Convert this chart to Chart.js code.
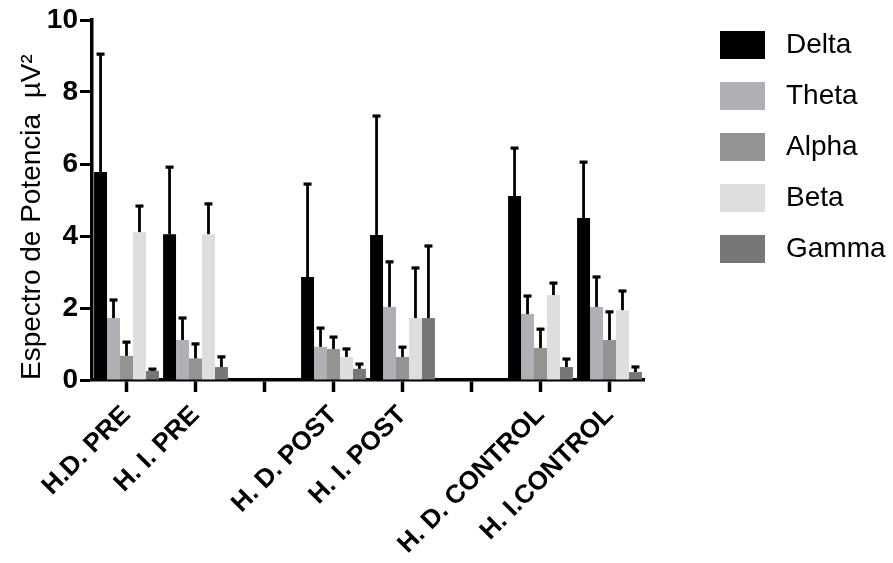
<!DOCTYPE html>
<html>
<head>
<meta charset="utf-8">
<script src="https://cdn.jsdelivr.net/npm/chart.js@4.4.0/dist/chart.umd.min.js"></script>
<style>
  html, body { margin: 0; padding: 0; background: #ffffff; }
  #wrap { width: 893px; height: 563px; }
</style>
</head>
<body>
<div id="wrap"><canvas id="c" width="893" height="563"></canvas></div>
<script>
// Groups along the x axis; empty labels leave a gap between PRE, POST and CONTROL
const categories = ['H.D. PRE', 'H. I. PRE', '', 'H. D. POST', 'H. I. POST', '', 'H. D. CONTROL', 'H. I.CONTROL'];

// Mean power per band (µV²)
const delta = [5.78, 4.05, null, 2.86, 4.03, null, 5.11, 4.50];
const theta = [1.72, 1.11, null, 0.92, 2.03, null, 1.83, 2.03];
const alpha = [0.67, 0.60, null, 0.86, 0.64, null, 0.89, 1.11];
const beta  = [4.11, 4.05, null, 0.64, 1.72, null, 2.36, 1.94];
const gamma = [0.25, 0.36, null, 0.31, 1.72, null, 0.36, 0.22];

// Standard deviation per band (drawn upward only)
const deltaSD = [3.30, 1.89, null, 2.61, 3.33, null, 1.36, 1.58];
const thetaSD = [0.53, 0.64, null, 0.55, 1.28, null, 0.53, 0.86];
const alphaSD = [0.41, 0.43, null, 0.36, 0.30, null, 0.55, 0.81];
const betaSD  = [0.75, 0.87, null, 0.25, 1.42, null, 0.36, 0.56];
const gammaSD = [0.08, 0.31, null, 0.16, 2.03, null, 0.25, 0.17];

// Y axis range and step
const yMin = 0, yMax = 10, yStep = 2;

const FONT = '"Liberation Sans", Arial, Helvetica, sans-serif';

// Upper error bars: a stem from the bar top to mean + SD with a short cap
const errorBarPlugin = {
  id: 'errorBars',
  afterDatasetsDraw(chart) {
    const ctx = chart.ctx;
    const yScale = chart.scales.y;
    ctx.save();
    ctx.strokeStyle = '#000000';
    ctx.lineCap = 'butt';
    chart.data.datasets.forEach((ds, i) => {
      const meta = chart.getDatasetMeta(i);
      meta.data.forEach((bar, j) => {
        const v = ds.data[j];
        const sd = ds.sd[j];
        if (v == null || sd == null) return;
        const x = bar.x;
        const y0 = yScale.getPixelForValue(v);
        const y1 = yScale.getPixelForValue(v + sd);
        ctx.lineWidth = 2.8;
        ctx.beginPath();
        ctx.moveTo(x, y0);
        ctx.lineTo(x, y1);
        ctx.stroke();
        ctx.lineWidth = 3.2;
        ctx.beginPath();
        ctx.moveTo(x - 4, y1 + 1);
        ctx.lineTo(x + 4, y1 + 1);
        ctx.stroke();
      });
    });
    ctx.restore();
  }
};

// Legend drawn at the right, one swatch per band
const sideLegendPlugin = {
  id: 'sideLegend',
  afterDraw(chart) {
    const ctx = chart.ctx;
    ctx.save();
    ctx.font = '28px ' + FONT;
    ctx.textBaseline = 'middle';
    ctx.textAlign = 'left';
    chart.data.datasets.forEach((ds, i) => {
      const cy = 45 + i * 51;
      ctx.fillStyle = ds.backgroundColor;
      ctx.fillRect(720, cy - 14, 45, 28);
      ctx.fillStyle = '#000000';
      ctx.fillText(ds.label, 786, cy);
    });
    ctx.restore();
  }
};

const colors = ['#000000', '#b0afb4', '#939393', '#dedede', '#777777'];
const bandNames = ['Delta', 'Theta', 'Alpha', 'Beta', 'Gamma'];
const bandValues = [delta, theta, alpha, beta, gamma];
const bandSD = [deltaSD, thetaSD, alphaSD, betaSD, gammaSD];

const datasets = bandNames.map((name, i) => ({
  label: name,
  data: bandValues[i],
  sd: bandSD[i],
  backgroundColor: colors[i],
  borderWidth: 0,
  barPercentage: 1.0,
  categoryPercentage: 0.94
}));

new Chart(document.getElementById('c'), {
  type: 'bar',
  data: { labels: categories, datasets },
  options: {
    responsive: false,
    animation: false,
    devicePixelRatio: 1,
    layout: { padding: { left: 0, right: 249, top: 20, bottom: 0 } },
    plugins: {
      legend: { display: false },
      tooltip: { enabled: false }
    },
    scales: {
      x: {
        type: 'category',
        offset: true,
        grid: {
          offset: false,
          drawOnChartArea: false,
          drawTicks: true,
          tickLength: 12,
          tickWidth: 3.5,
          tickColor: '#000000',
          color: '#000000'
        },
        border: { display: true, width: 3.5, color: '#000000' },
        ticks: {
          autoSkip: false,
          maxRotation: 45,
          minRotation: 45,
          padding: 8,
          color: '#000000',
          font: { family: FONT, size: 26, weight: 'bold' }
        },
        afterFit(scale) { scale.height = 183; }
      },
      y: {
        min: yMin,
        max: yMax,
        grid: {
          drawOnChartArea: false,
          drawTicks: true,
          tickLength: 12,
          tickWidth: 3,
          tickColor: '#000000',
          color: '#000000'
        },
        border: { display: true, width: 3.5, color: '#000000' },
        ticks: {
          stepSize: yStep,
          padding: 2,
          color: '#000000',
          font: { family: FONT, size: 28, weight: 'bold' }
        },
        title: {
          display: true,
          text: 'Espectro de Potencia  µV²',
          align: 'start',
          color: '#000000',
          font: { family: FONT, size: 28 },
          padding: { top: 15, bottom: 0 }
        },
        afterFit(scale) { scale.width = 92; }
      }
    }
  },
  plugins: [errorBarPlugin, sideLegendPlugin]
});
</script>
</body>
</html>
